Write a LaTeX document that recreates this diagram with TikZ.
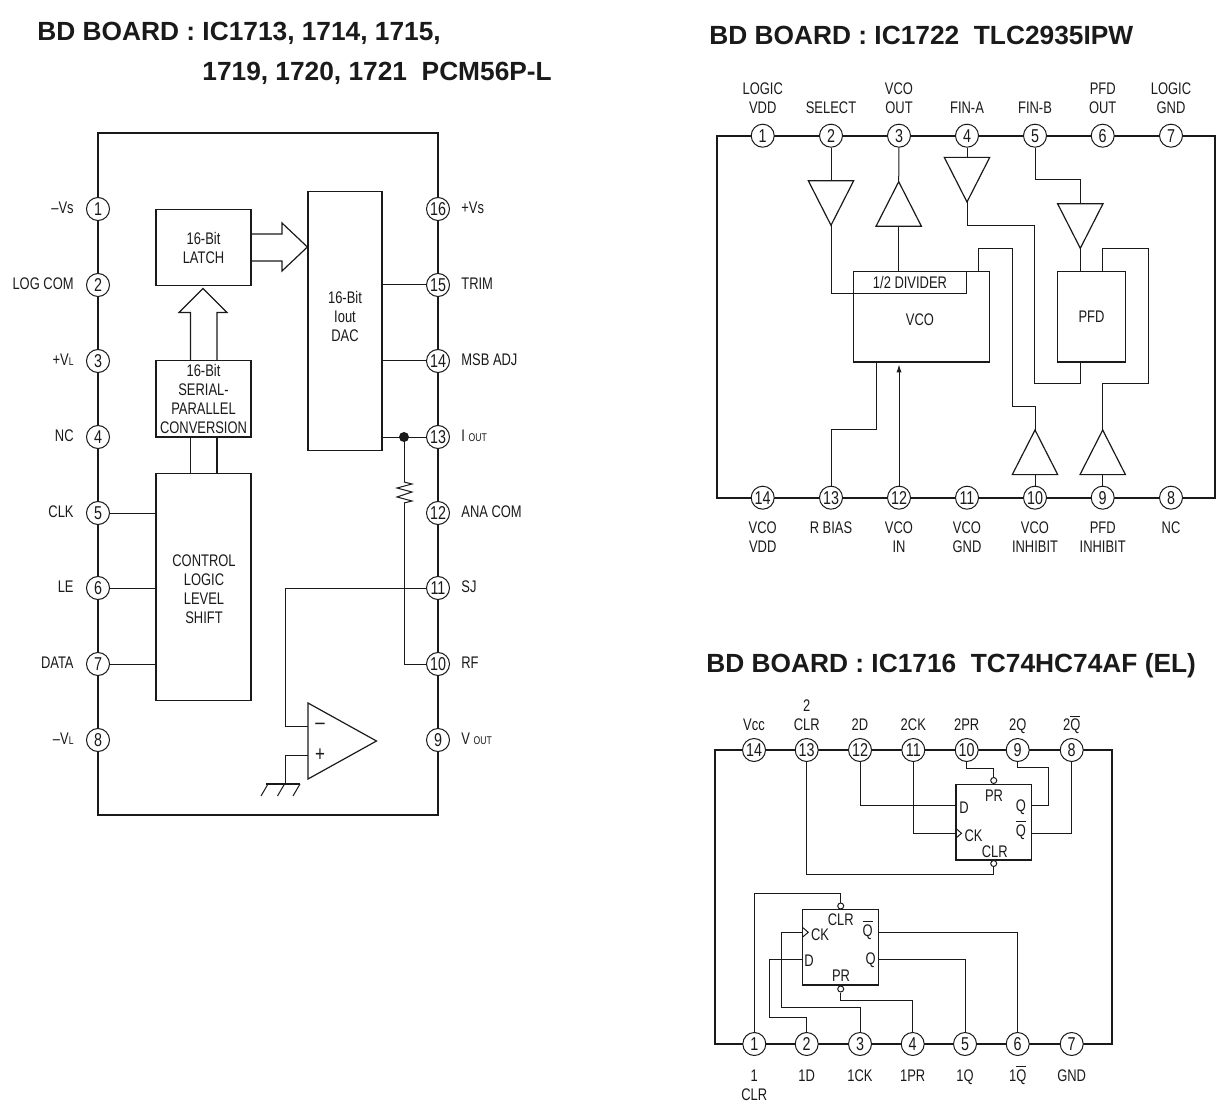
\documentclass[tikz,border=0pt]{standalone}
\usepackage{fontspec}
\setmainfont[FakeStretch=0.77]{Liberation Sans}
\newfontfamily\titlefont{Liberation Sans}
\usepackage{tikz}
\usetikzlibrary{arrows.meta}
\definecolor{icink}{HTML}{1A1A1A}
\newcommand{\barq}{\smash{$\overline{\mbox{Q}}$}}
\newcommand{\subfont}{\fontsize{5.6}{6}\selectfont}
\tikzset{
  every node/.style={font=\fontsize{8.4}{9.5}\selectfont, text=icink, align=center, inner sep=0pt},
  pin/.style={circle, draw=icink, fill=white, line width=0.5pt, minimum size=11.5pt, font=\fontsize{9.3}{10}\selectfont},
  pinname/.style={text depth=0pt},
  chipframe/.style={draw=icink, line width=1pt},
  wire/.style={draw=icink, line width=0.5pt},
  blockbox/.style={draw=icink, line width=0.6pt, fill=white},
  bubble/.style={circle, draw=icink, fill=white, line width=0.5pt, minimum size=3pt},
  boardtitle/.style={font=\titlefont\bfseries\fontsize{13.15}{15}\selectfont, anchor=base west}
}
\begin{document}
\begin{tikzpicture}[x=0.5pt, y=-0.5pt]
  \useasboundingbox (0,0) rectangle (1220,1112);
  % titres
  \node[boardtitle] (titleA) at (37,41) {BD BOARD : IC1713, 1714, 1715,};
  \node[boardtitle] (titleAb) at (202,81) {1719, 1720, 1721\ \ PCM56P-L};
  \node[boardtitle] (titleB) at (709,45) {BD BOARD : IC1722\ \ TLC2935IPW};
  \node[boardtitle] (titleC) at (706,672) {BD BOARD : IC1716\ \ TC74HC74AF (EL)};

  % ---- PCM56P-L ----
  \draw[chipframe] (98,133.5) rectangle (438,815);
  \foreach \n/\y/\lab in {1/209/{--Vs}, 2/285/{LOG COM}, 3/361/{+V{\subfont L}}, 4/437/NC, 5/513/CLK, 6/588/LE, 7/664/DATA, 8/740/{--V{\subfont L}}} {
    \node[pin] (a\n) at (98,\y) {\n};
    \node[anchor=east] (aname\n) at (74,\y-1) {\lab};
  }
  \foreach \n/\y/\lab in {16/209/{+Vs}, 15/285/TRIM, 14/361/{MSB ADJ}, 13/437/{I {\subfont OUT}}, 12/513/{ANA COM}, 11/588/SJ, 10/664/RF, 9/740/{V {\subfont OUT}}} {
    \node[pin] (a\n) at (438,\y) {\n};
    \node[anchor=west] (aname\n) at (461,\y-1) {\lab};
  }
  \node[blockbox, minimum width=47.5pt, minimum height=38.2pt] (latch) at (203.5,247.5) {16-Bit\\LATCH};
  \node[blockbox, minimum width=47.5pt, minimum height=38.2pt] (serial) at (203.5,398.7) {16-Bit\\SERIAL-\\PARALLEL\\CONVERSION};
  \node[blockbox, minimum width=47.5pt, minimum height=113.7pt] (control) at (203.5,587) {};
  \node (controltext) at (204,589) {CONTROL\\LOGIC\\LEVEL\\SHIFT};
  \node[blockbox, minimum width=37pt, minimum height=129.5pt] (dac) at (345,321) {};
  \node (dactext) at (345,316.5) {16-Bit\\Iout\\DAC};
  % fleches larges
  \draw[wire, line width=0.6pt] (latch.east |- 0,234) -- (282,234) -- (282,223) -- (dac.west |- 0,247) -- (282,271) -- (282,261) -- (latch.east |- 0,261);
  \draw[wire, line width=0.6pt] (190.5,360.5) -- (190.5,312.5) -- (179,312.5) -- (203,288.5) -- (227,312.5) -- (217,312.5) -- (217,360.5);
  \draw[wire, line width=0.6pt] (190.5,436.8) -- (190.5,473.5) (217,436.8) -- (217,473.5);
  % liaisons
  \foreach \n in {5,6,7} \draw[wire] (a\n) -- (a\n -| control.west);
  \foreach \n in {15,14,13} \draw[wire] (a\n) -- (a\n -| dac.east);
  \fill[icink] (404,437) circle (5) coordinate (tap);
  \coordinate (resTop) at (404,482);
  \coordinate (resBot) at (404,503);
  \draw[wire] (tap) -- (resTop);
  \draw[wire] (resTop) -- (412,484) -- (397,488) -- (412,492) -- (397,497) -- (412,501) -- (resBot);
  \draw[wire] (resBot) |- (a10);
  % ampli
  \coordinate (opamp) at (376.5,741);
  \draw[wire, line width=0.6pt] (opamp) -- (308,703) -- (308,779) -- cycle;
  \node[font=\fontsize{11}{11}\selectfont] (minus) at (320,726) {--};
  \node[font=\fontsize{11}{11}\selectfont] (plus) at (320,755) {+};
  \draw[wire] (a11) -- (285.5,588) -- (285.5,726) -- (308,726);
  \coordinate (gnd) at (285.5,784);
  \draw[wire] (308,755) -- (285.5,755) -- (gnd);
  \draw[icink, line width=1pt] (266,784) -- (300,784);
  \foreach \x in {268,284.5,300} \draw[wire] (\x,784) -- (\x-7,796);

  % ---- TLC2935IPW ----
  \draw[chipframe] (1215,135.7) -- (717.3,135.7) -- (717.3,497.7) -- (1215,497.7) -- cycle;
  \foreach \n/\x/\lab in {1/762.7/{LOGIC\\VDD}, 2/831/SELECT, 3/899/{VCO\\OUT}, 4/967/FIN-A, 5/1035/FIN-B, 6/1102.7/{PFD\\OUT}, 7/1171/{LOGIC\\GND}} {
    \node[pin] (b\n) at (\x,135.7) {\n};
    \node[pinname, anchor=south] (bname\n) at (\x,114) {\lab};
  }
  \foreach \n/\x/\lab in {14/762.7/{VCO\\VDD}, 13/831/{R BIAS}, 12/899/{VCO\\IN}, 11/967/{VCO\\GND}, 10/1035/{VCO\\INHIBIT}, 9/1102.7/{PFD\\INHIBIT}, 8/1171/NC} {
    \node[pin] (b\n) at (\x,497.7) {\n};
    \node[pinname, anchor=north] (bname\n) at (\x,518.7) {\rule{0pt}{7pt}\lab};
  }
  \node[blockbox, minimum width=68pt, minimum height=45.4pt] (vco) at (921.3,316.7) {};
  \node (vcotext) at (920,320) {VCO};
  \node[blockbox, minimum width=56.7pt, minimum height=11pt] (divider) at (910,282.3) {1/2 DIVIDER};
  \node[blockbox, minimum width=34.2pt, minimum height=45.4pt] (pfd) at (1091.5,316.7) {PFD};
  % buffers
  \foreach \name/\x/\y/\dir in {selbuf/831/225.3/-1, outbuf/898.7/181.7/1, finabuf/967/202/-1, finbbuf/1080.3/248.3/-1, vinhbuf/1035/430/1, pinhbuf/1102.7/430/1} {
    \coordinate (\name) at (\x,\y);
    \coordinate (\name-base) at (\x,{\y+\dir*44.6});
    \draw[wire, line width=0.6pt] (\name) -- ++(-22.7,\dir*44.6) -- ++(45.4,0) -- cycle;
  }
  \draw[wire] (b2) -- (selbuf-base);
  \draw[wire] (selbuf) |- (divider.south west);
  \draw[wire] (b3) -- (outbuf);
  \draw[wire] (outbuf-base) -- (outbuf-base |- divider.north);
  \draw[wire] (b4) -- (finabuf-base);
  \draw[wire] (finabuf) -- (967,225.3) -- (1034.7,225.3) -- (1034.7,384) -- (1080.3,384) -- (1080.3,362);
  \draw[wire] (b5) -- (1035,180) -- (1080.3,180) -- (finbbuf-base);
  \draw[wire] (finbbuf) -- (finbbuf |- pfd.north);
  \draw[wire] (1102.7,271.3) -- (1102.7,248.3) -- (1148,248.3) -- (1148,384) -- (1102.7,384) -- (pinhbuf);
  \draw[wire] (pinhbuf-base) -- (b9);
  \draw[wire] (978.3,271.3) -- (978.3,248.3) -- (1012,248.3) -- (1012,407) -- (1035,407) -- (vinhbuf);
  \draw[wire] (vinhbuf-base) -- (b10);
  \draw[wire] (b13) -- (831,429.3) -- (876,429.3) -- (876,362);
  \draw[wire, -{Latex[length=4pt,width=2.6pt]}] (b12) -- (899,364.5);

  % ---- TC74HC74AF ----
  \draw[chipframe] (715,750) rectangle (1111.7,1044);
  \foreach \n/\x/\lab in {14/754/Vcc, 13/806.7/{2\\CLR}, 12/860/2D, 11/913.3/2CK, 10/966.7/2PR, 9/1017.7/2Q, 8/1071.7/{2\barq}} {
    \node[pin] (c\n) at (\x,750) {\n};
    \node[pinname, anchor=south] (cname\n) at (\x,731) {\lab};
  }
  \foreach \n/\x/\lab in {1/754.3/{1\\CLR}, 2/806.7/1D, 3/860/1CK, 4/912.7/1PR, 5/965/1Q, 6/1017.7/{1\barq}, 7/1071.7/GND} {
    \node[pin] (c\n) at (\x,1044) {\n};
    \node[pinname, anchor=north] (cname\n) at (\x,1067) {\rule{0pt}{7pt}\lab};
  }
  % bascule 2
  \node[blockbox, minimum width=37.8pt, minimum height=37.8pt] (ffb) at (993.8,822.2) {};
  \node[bubble] (ffbpr) at (993.7,780.5) {};
  \node[bubble] (ffbclr) at (993.7,863.5) {};
  \node (ffbPRt) at (994,796) {PR};
  \node (ffbDt) at (964,807.5) {D};
  \node (ffbQt) at (1021,807.5) {Q};
  \node (ffbCKt) at (973.5,835.5) {CK};
  \node (ffbNQt) at (1021,836) {\barq};
  \node (ffbCLRt) at (994.7,852) {CLR};
  \draw[wire] (956,828.5) -- (961.5,833.3) -- (956,838);
  \draw[wire] (c10) |- (993.7,768.3) -- (ffbpr);
  \draw[wire] (c9) |- (1048,767.7) -- (1048,805.7) -- (1031.7,805.7);
  \draw[wire] (c8) |- (1031.7,833.3);
  \draw[wire] (c12) |- (956,805.7);
  \draw[wire] (c11) |- (956,833.3);
  \draw[wire] (c13) |- (993.7,874.7) -- (ffbclr);
  % bascule 1
  \node[blockbox, minimum width=38pt, minimum height=37.8pt] (ffa) at (840.7,947.2) {};
  \node[bubble] (ffaclr) at (840.7,906) {};
  \node[bubble] (ffapr) at (840.7,989) {};
  \node (ffaCLRt) at (840.7,920) {CLR};
  \node (ffaCKt) at (820,934.5) {CK};
  \node (ffaNQt) at (867.7,936) {\barq};
  \node (ffaDt) at (809,961) {D};
  \node (ffaQt) at (870.7,960) {Q};
  \node (ffaPRt) at (841,976) {PR};
  \draw[wire] (802.7,927.5) -- (808.2,932.3) -- (802.7,937);
  \draw[wire] (c1) |- (840.7,893.3) -- (ffaclr);
  \draw[wire] (c2) -- (806.7,1017.3) -- (769.3,1017.3) |- (802.7,959.3);
  \draw[wire] (c3) -- (860,1007.7) -- (781.7,1007.7) |- (802.7,932.3);
  \draw[wire] (c4) |- (840.7,1000) -- (ffapr);
  \draw[wire] (c5) |- (878.7,959.3);
  \draw[wire] (c6) |- (878.7,932.7);
\end{tikzpicture}
\end{document}
